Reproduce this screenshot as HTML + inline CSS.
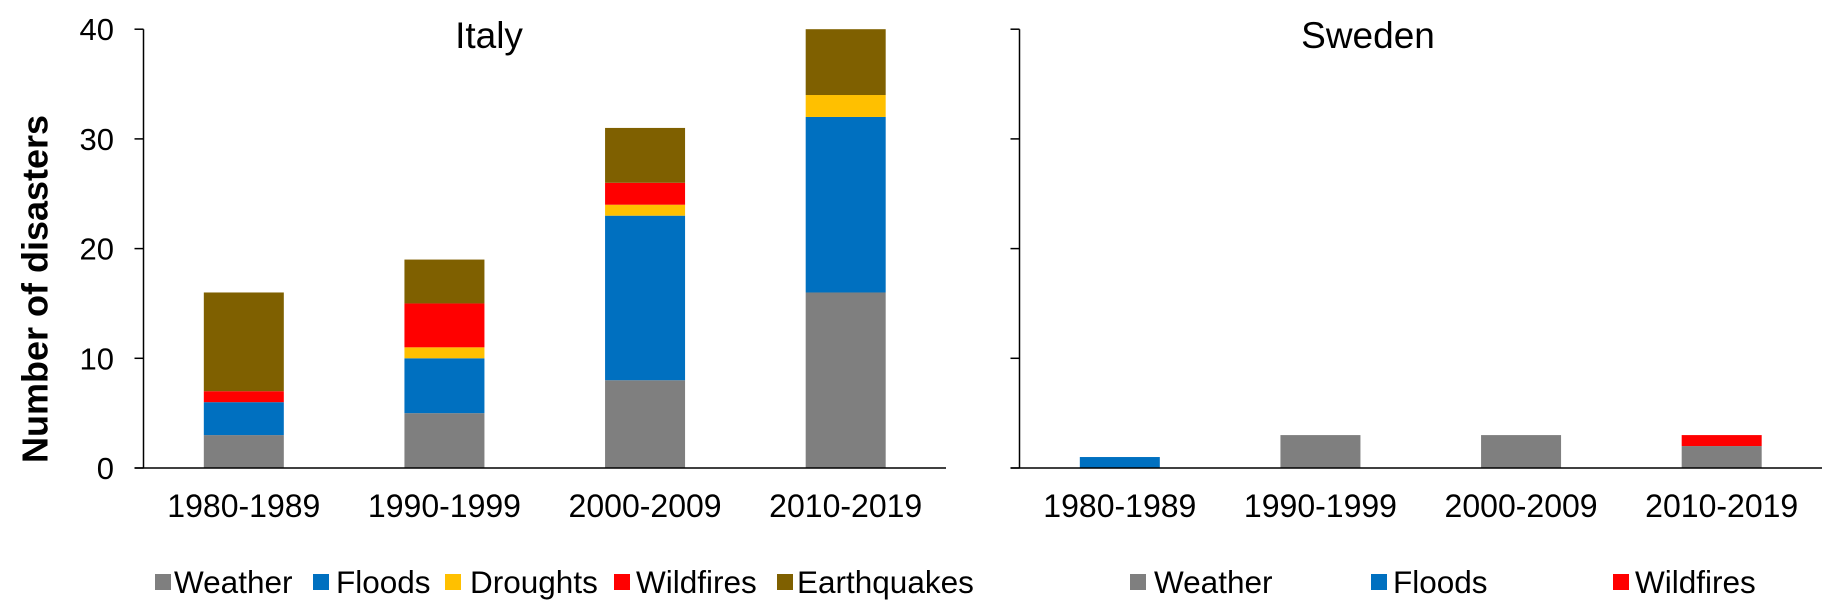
<!DOCTYPE html>
<html><head><meta charset="utf-8"><style>
html,body{margin:0;padding:0;background:#fff;}
svg{display:block;font-family:"Liberation Sans",Arial,sans-serif;}
</style></head><body>
<svg id="chart" width="1839" height="615" viewBox="0 0 1839 615" xmlns="http://www.w3.org/2000/svg">
<text x="38" y="289" transform="rotate(-90 38 289)" text-anchor="middle" dominant-baseline="middle" font-size="36" font-weight="bold">Number of disasters</text>
<text x="489" y="48" text-anchor="middle" font-size="37">Italy</text>
<text x="1368" y="48" text-anchor="middle" font-size="37">Sweden</text>
<g id="plots"></g>
</svg>
<script>
const categories = ["1980-1989","1990-1999","2000-2009","2010-2019"];
const yTicks = [0,10,20,30,40];
const italyWeather = [3,5,8,16];
const italyFloods = [3,5,15,16];
const italyDroughts = [0,1,1,2];
const italyWildfires = [1,4,2,0];
const italyEarthquakes = [9,4,5,6];
const swedenWeather = [0,3,3,2];
const swedenFloods = [1,0,0,0];
const swedenWildfires = [0,0,0,1];

const NS = "http://www.w3.org/2000/svg";
const g = document.getElementById('plots');
const y0 = 468, pxPerUnit = 10.97;
function yScale(v){ return y0 - v*pxPerUnit; }
function mk(tag, attrs){ const e=document.createElementNS(NS,tag); for(const k in attrs) e.setAttribute(k,attrs[k]); g.appendChild(e); return e; }

function panel(key, axisX, endX, series, legend){
  const step = (endX-axisX)/categories.length;
  const xScale = i => axisX + step*(i+0.5);
  const bw = 80;
  categories.forEach((c,i)=>{
    let base = 0;
    series.forEach(s=>{
      const v = s.values[i];
      if(v>0){
        const r = mk('rect',{x:xScale(i)-bw/2, y:yScale(base+v), width:bw, height:v*pxPerUnit, fill:s.color});
        
        
      }
      base += v;
    });
    const t = mk('text',{x:xScale(i), y:517, 'text-anchor':'middle', 'font-size':32});
    t.textContent = c;
    
    
  });
  const ya = mk('line',{x1:axisX,y1:yScale(40),x2:axisX,y2:y0,stroke:'#000','stroke-width':1.5});
  
  
  const xa = mk('line',{x1:axisX-9,y1:y0,x2:endX,y2:y0,stroke:'#000','stroke-width':1.5});
  
  
  yTicks.forEach(v=>{
    const tk = mk('line',{x1:axisX-9,y1:yScale(v),x2:axisX,y2:yScale(v),stroke:'#000','stroke-width':1.5});
    
    
    if(key==='italy'){
      const tl = mk('text',{x:114, y:yScale(v)+11, 'text-anchor':'end', 'font-size':31});
      tl.textContent = v;
      
      
    }
  });
  legend.forEach(l=>{
    const sq = mk('rect',{x:l.sx, y:574, width:16, height:16, fill:l.color});
    
    
    const lt = mk('text',{x:l.tx, y:593, 'font-size':31.5});
    lt.textContent = l.name;
    
    
  });
}
const C = {Weather:'#7f7f7f',Floods:'#0070c0',Droughts:'#ffc000',Wildfires:'#ff0000',Earthquakes:'#7f6000'};
panel('italy',143.5,946,[
  {name:'Weather',values:italyWeather,color:C.Weather},
  {name:'Floods',values:italyFloods,color:C.Floods},
  {name:'Droughts',values:italyDroughts,color:C.Droughts},
  {name:'Wildfires',values:italyWildfires,color:C.Wildfires},
  {name:'Earthquakes',values:italyEarthquakes,color:C.Earthquakes}
],[
  {name:'Weather',color:C.Weather,sx:155,tx:174},
  {name:'Floods',color:C.Floods,sx:313,tx:336},
  {name:'Droughts',color:C.Droughts,sx:445,tx:470},
  {name:'Wildfires',color:C.Wildfires,sx:614,tx:636},
  {name:'Earthquakes',color:C.Earthquakes,sx:777,tx:797}
]);
panel('sweden',1019.5,1822,[
  {name:'Weather',values:swedenWeather,color:C.Weather},
  {name:'Floods',values:swedenFloods,color:C.Floods},
  {name:'Wildfires',values:swedenWildfires,color:C.Wildfires}
],[
  {name:'Weather',color:C.Weather,sx:1130,tx:1154},
  {name:'Floods',color:C.Floods,sx:1371,tx:1393},
  {name:'Wildfires',color:C.Wildfires,sx:1613,tx:1635}
]);
</script>
</body></html>
